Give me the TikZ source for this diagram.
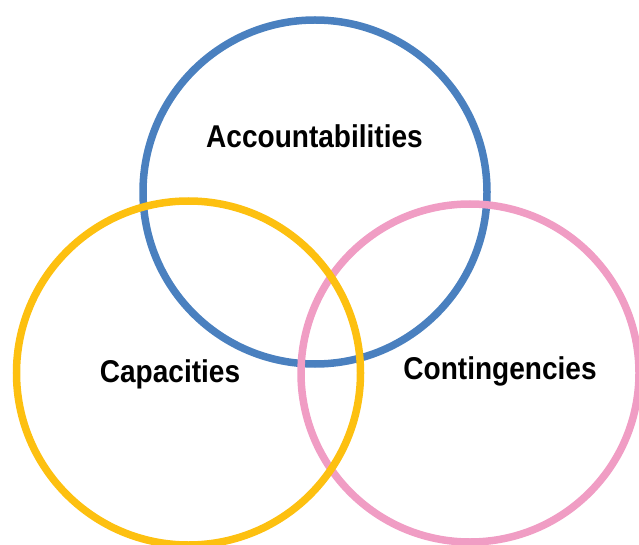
\documentclass[tikz,border=0pt]{standalone}
\usepackage{fontspec}
\setmainfont[FakeStretch=0.89]{Liberation Sans}
\definecolor{accblue}{HTML}{4A80BF}
\definecolor{capyellow}{HTML}{FDC010}
\definecolor{conpink}{HTML}{F09DC4}
\begin{document}
\begin{tikzpicture}[
  x=1pt, y=-1pt,
  ring/.style={circle, line width=7.5pt, minimum size=#1, inner sep=0pt},
  lbl/.style={font=\fontsize{31.5}{36}\selectfont\bfseries, anchor=base, inner sep=0pt}
]
\useasboundingbox (0,0) rectangle (639,545);

% Circles (blue under pink under yellow)
\node[ring=344pt, draw=accblue] (acc) at (315,192) {};
\node[ring=338pt, draw=conpink] (con) at (470,373) {};
\node[ring=344pt, draw=capyellow] (cap) at (188.5,373) {};

% Labels
\node[lbl] (acclbl) at (314.5,148) {Accountabilities};
\node[lbl] (caplbl) at (170,382) {Capacities};
\node[lbl] (conlbl) at (500,379) {Contingencies};

\end{tikzpicture}
\end{document}
